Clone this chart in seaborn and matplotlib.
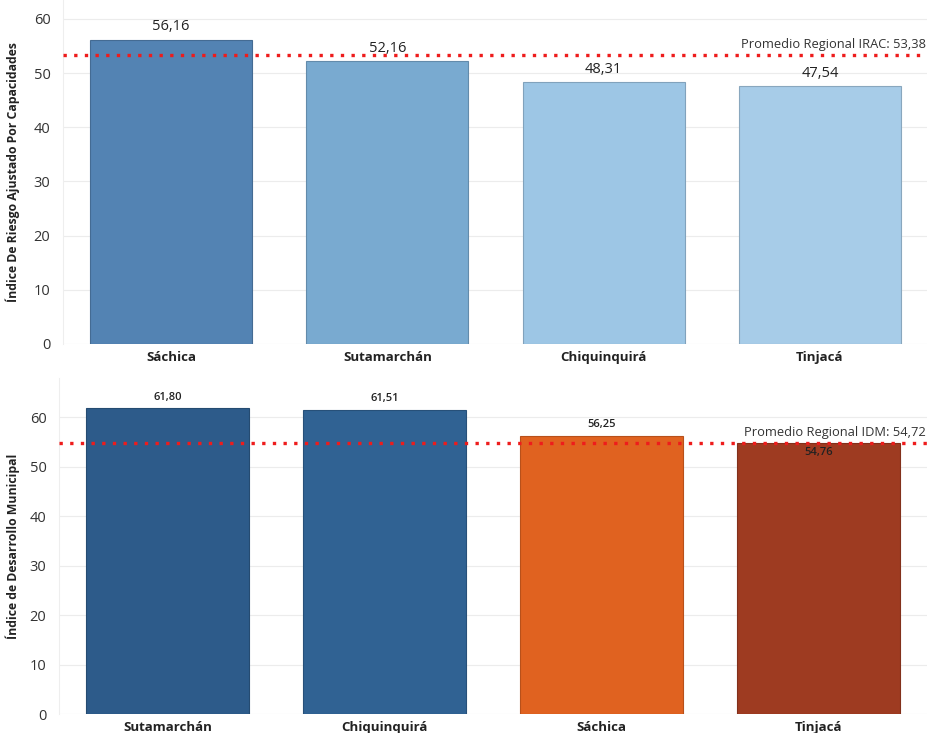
import matplotlib
matplotlib.use("Agg")
import matplotlib.pyplot as plt
import matplotlib.colors as mcolors
import seaborn as sns
import pandas as pd

# Índice de Riesgo Ajustado por Capacidades (IRAC)
irac_municipios = ["Sáchica", "Sutamarchán", "Chiquinquirá", "Tinjacá"]
irac_valores = [56.16, 52.16, 48.31, 47.54]
irac_colores = ["#5383b3", "#79aad0", "#9dc6e5", "#a7cce8"]
irac_promedio = 53.38

# Índice de Desarrollo Municipal (IDM)
idm_municipios = ["Sutamarchán", "Chiquinquirá", "Sáchica", "Tinjacá"]
idm_valores = [61.80, 61.51, 56.25, 54.76]
idm_colores = ["#2d5b8a", "#306293", "#e06220", "#9e3b21"]
idm_promedio = 54.72

y_ticks = [0, 10, 20, 30, 40, 50, 60]

sns.set_theme(style="white")
plt.rcParams["font.family"] = ["Open Sans", "DejaVu Sans"]

W, H = 927, 733
fig = plt.figure(figsize=(W / 100, H / 100), dpi=100)
fig.patch.set_facecolor("white")


def px_axes(left, top, right, bottom):
    return fig.add_axes([left / W, 1 - bottom / H, (right - left) / W, (bottom - top) / H])


def fmt(v):
    return f"{v:.2f}".replace(".", ",")


def darker(c, f=0.82):
    return tuple(x * f for x in mcolors.to_rgb(c))


def panel(ax, left_px, cats, vals, cols, avg, ylim_top, ylabel, avg_label,
          lab_size, lab_weight, inside_last):
    df = pd.DataFrame({"municipio": cats, "valor": vals})
    sns.barplot(data=df, x="municipio", y="valor", hue="municipio", order=cats,
                palette=dict(zip(cats, cols)), dodge=False, legend=False,
                width=0.75, saturation=1, ax=ax, linewidth=0)
    # thin darker outline around each bar
    for p, c in zip(ax.patches, cols):
        p.set_edgecolor(darker(c))
        p.set_linewidth(0.8)
    ax.set_ylim(0, ylim_top)
    ax.set_xlim(-0.5, len(cats) - 0.5)
    ax.set_yticks(y_ticks)
    ax.set_yticklabels([str(t) for t in y_ticks], fontsize=10.5, color="#333333")
    ax.yaxis.grid(True, color="#ececec", linewidth=0.8)
    ax.set_axisbelow(True)
    ax.tick_params(axis="y", length=0, pad=9)
    ax.tick_params(axis="x", length=0, pad=5)
    for lbl in ax.get_xticklabels():
        lbl.set_fontsize(9.5)
        lbl.set_fontweight("bold")
        lbl.set_color("#222222")
    ax.set_xlabel("")
    ax.set_ylabel(ylabel, fontsize=8.8, fontweight="bold", color="#222222")
    width_px = ax.get_position().width * W
    ax.yaxis.set_label_coords((20 - left_px) / width_px, 0.5)
    for s in ["top", "right", "bottom"]:
        ax.spines[s].set_visible(False)
    ax.spines["left"].set_color("#eeeeee")
    ax.spines["left"].set_linewidth(0.8)
    ax.axhline(avg, color="#ee1c1c", linestyle=(0, (1, 2.2)), linewidth=2.4, zorder=5)
    ax.text(0.998, avg + ylim_top * 0.012, avg_label, transform=ax.get_yaxis_transform(),
            ha="right", va="bottom", fontsize=9.3, color="#333333", zorder=6)
    for i, v in enumerate(vals):
        if inside_last and i == len(vals) - 1:
            ax.annotate(fmt(v), (i, v), xytext=(0, -3), textcoords="offset points",
                        ha="center", va="top", fontsize=lab_size, fontweight=lab_weight,
                        color="#222222", zorder=6)
        else:
            ax.annotate(fmt(v), (i, v), xytext=(0, 4), textcoords="offset points",
                        ha="center", va="bottom", fontsize=lab_size, fontweight=lab_weight,
                        color="#222222", zorder=6)


ax1 = px_axes(63, 0, 928, 344)
panel(ax1, 63, irac_municipios, irac_valores, irac_colores, irac_promedio, 63.5,
      "Índice De Riesgo Ajustado Por Capacidades",
      "Promedio Regional IRAC: " + fmt(irac_promedio), 10.5, "normal", False)

ax2 = px_axes(59, 378, 927, 714)
panel(ax2, 59, idm_municipios, idm_valores, idm_colores, idm_promedio, 67.9,
      "Índice de Desarrollo Municipal",
      "Promedio Regional IDM: " + fmt(idm_promedio), 8, "semibold", True)

fig.savefig("out.png", dpi=100, facecolor="white")
